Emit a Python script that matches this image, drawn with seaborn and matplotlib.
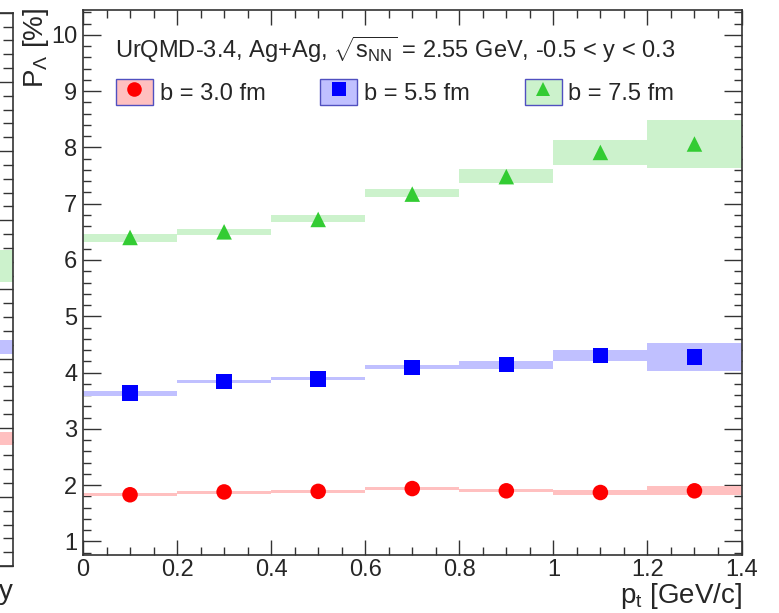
import numpy as np
import pandas as pd
import matplotlib
matplotlib.use("Agg")
import matplotlib.pyplot as plt
import seaborn as sns
from matplotlib.patches import Patch
from matplotlib.lines import Line2D
from matplotlib.ticker import MultipleLocator

# data
pt = [0.1, 0.3, 0.5, 0.7, 0.9, 1.1, 1.3]
bin_width = 0.2

p_b30 = [1.83, 1.88, 1.89, 1.94, 1.90, 1.87, 1.90]
lo_b30 = [1.80, 1.85, 1.87, 1.91, 1.88, 1.82, 1.82]
hi_b30 = [1.86, 1.90, 1.91, 1.96, 1.94, 1.92, 1.99]

p_b55 = [3.64, 3.84, 3.89, 4.09, 4.14, 4.30, 4.28]
lo_b55 = [3.59, 3.81, 3.86, 4.06, 4.07, 4.20, 4.03]
hi_b55 = [3.68, 3.87, 3.93, 4.13, 4.21, 4.40, 4.52]

p_b75 = [6.40, 6.50, 6.72, 7.17, 7.48, 7.91, 8.06]
lo_b75 = [6.32, 6.44, 6.67, 7.11, 7.36, 7.69, 7.64]
hi_b75 = [6.47, 6.55, 6.80, 7.26, 7.61, 8.13, 8.48]

labels = ['b = 3.0 fm', 'b = 5.5 fm', 'b = 7.5 fm']
xticks = [0, 0.2, 0.4, 0.6, 0.8, 1, 1.2, 1.4]
xtick_labels = ['0', '0.2', '0.4', '0.6', '0.8', '1', '1.2', '1.4']
yticks = [1, 2, 3, 4, 5, 6, 7, 8, 9, 10]

# neighbouring panel (only its right edge is visible)
left_lo = [1.75, 3.06, 4.10]
left_hi = [1.94, 3.27, 4.57]

marker_col = {labels[0]: '#ff0000', labels[1]: '#0000ff', labels[2]: '#33cc33'}
band_col = {labels[0]: '#ffc0c0', labels[1]: '#c0c0ff', labels[2]: '#ccf2cc'}
markers = {labels[0]: 'o', labels[1]: 's', labels[2]: '^'}

sns.set_style('ticks')
plt.rcParams['font.family'] = ['Liberation Sans', 'DejaVu Sans']
plt.rcParams['mathtext.fontset'] = 'custom'
plt.rcParams['mathtext.rm'] = 'Liberation Sans'
plt.rcParams['mathtext.it'] = 'Liberation Sans'
plt.rcParams['mathtext.default'] = 'regular'

frames = []
for lab, p, lo, hi in zip(labels, [p_b30, p_b55, p_b75], [lo_b30, lo_b55, lo_b75], [hi_b30, hi_b55, hi_b75]):
    frames.append(pd.DataFrame({'pt': pt, 'P': p, 'lo': lo, 'hi': hi, 'b': lab}))
df = pd.concat(frames, ignore_index=True)

fig = plt.figure(figsize=(7.79, 6.13), dpi=100)

# ---- left neighbour panel fragment
axl = fig.add_axes([-0.2, 47 / 613, 0.2 + 13.3 / 779, (566 - 12.7) / 613])
axl.set_xlim(0, 1)
axl.set_ylim(0, 8)
for lo, hi, lab in zip(left_lo, left_hi, labels):
    axl.bar(0.925, hi - lo, bottom=lo, width=0.15, color=band_col[lab], linewidth=0)
axl.spines['left'].set_visible(False)
for s in ['right', 'top', 'bottom']:
    axl.spines[s].set_color('#333333')
    axl.spines[s].set_linewidth(1.2)
axl.yaxis.tick_right()
axl.yaxis.set_major_locator(MultipleLocator(1))
axl.yaxis.set_minor_locator(MultipleLocator(0.2))
axl.tick_params(axis='y', which='major', direction='in', length=10, width=1, labelright=False, color='#333333')
axl.tick_params(axis='y', which='minor', direction='in', length=7, width=1, color='#333333')
axl.set_xticks([])
fig.text(13.3 / 779, 1 - 599 / 613, 'y', fontsize=20, ha='right', va='baseline')

# ---- main panel
ax = fig.add_axes([83 / 779, 58 / 613, 658.5 / 779, 545 / 613])

for lab in labels:
    d = df[df['b'] == lab]
    ax.bar(d['pt'], d['hi'] - d['lo'], bottom=d['lo'], width=bin_width,
           color=band_col[lab], linewidth=0, zorder=1)

sns.scatterplot(data=df, x='pt', y='P', hue='b', style='b', palette=marker_col,
                markers=markers, s=125, linewidth=0, legend=False, ax=ax, zorder=3)

ax.set_xlim(0, 1.4)
ax.set_ylim(0.76, 10.44)
ax.set_xticks(xticks)
ax.set_xticklabels(xtick_labels)
ax.set_yticks(yticks)
ax.xaxis.set_minor_locator(MultipleLocator(0.05))
ax.yaxis.set_minor_locator(MultipleLocator(0.2))
ax.tick_params(which='both', direction='in', top=True, right=True, width=1, color='#333333')
ax.tick_params(axis='y', which='major', length=13, pad=4, labelsize=17)
ax.tick_params(axis='y', which='minor', length=6)
ax.tick_params(axis='x', which='major', length=11, pad=3, labelsize=17)
ax.tick_params(axis='x', which='minor', length=6)
for s in ax.spines.values():
    s.set_color('#333333')
    s.set_linewidth(1.2)
ax.set_xlabel('')
ax.set_ylabel('')

fig.text(741.7 / 779, 1 - 603 / 613, 'p$_t$ [GeV/c]', fontsize=20, ha='right', va='baseline')
fig.text(36 / 779, 1 - 8 / 613, 'P$_{Λ}$ [%]', fontsize=20, rotation=90, ha='center', va='top')

ax.text(0.0486, 0.912, 'UrQMD-3.4, Ag+Ag, $\\sqrt{s_{NN}}$ = 2.55 GeV, -0.5 < y < 0.3',
        transform=ax.transAxes, fontsize=17, ha='left', va='baseline')

handles = []
for lab in labels:
    handles.append((Patch(facecolor=band_col[lab], edgecolor='#5050c0', linewidth=1),
                    Line2D([], [], marker=markers[lab], color=marker_col[lab], ls='none',
                           markersize=10.5, markeredgewidth=0)))
ax.legend(handles, labels, ncol=3, loc='upper left', bbox_to_anchor=(0.050, 0.874),
          frameon=False, borderpad=0, borderaxespad=0, fontsize=17,
          handlelength=1.57, handleheight=1.36, handletextpad=0.28, columnspacing=2.33)

fig.savefig('out.png', dpi=100)
